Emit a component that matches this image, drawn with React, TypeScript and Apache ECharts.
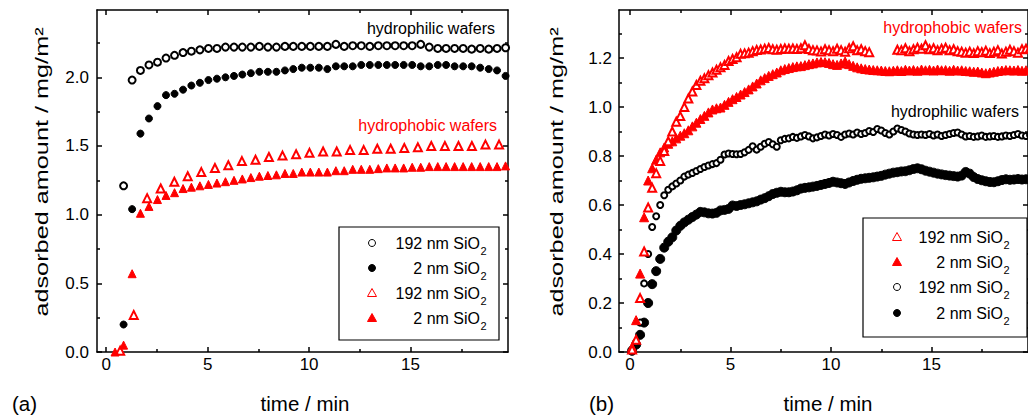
import React, { useEffect, useRef } from "react";
import * as echarts from "echarts";

const FONT = "'Liberation Sans', Arial, Helvetica, sans-serif";

// ---------- Panel (a) ----------
const timeA = [
  0.44, 0.86, 1.28, 1.69, 2.11, 2.53, 2.95, 3.37, 3.79, 4.2,
  4.62, 5.04, 5.46, 5.88, 6.3, 6.71, 7.13, 7.55, 7.97, 8.39,
  8.81, 9.22, 9.64, 10.06, 10.48, 10.9, 11.32, 11.73, 12.15, 12.57,
  12.99, 13.41, 13.83, 14.24, 14.66, 15.08, 15.5, 15.92, 16.34, 16.75,
  17.17, 17.59, 18.01, 18.43, 18.85, 19.26, 19.68,
];
const a192Hydrophilic = [
  null,
  1.21, 1.98, 2.05, 2.09, 2.11, 2.14, 2.16, 2.18, 2.19, 2.2,
  2.21, 2.21, 2.22, 2.22, 2.22, 2.22, 2.225, 2.22, 2.22, 2.225,
  2.225, 2.225, 2.225, 2.225, 2.225, 2.24, 2.225, 2.23, 2.23, 2.225,
  2.23, 2.23, 2.23, 2.23, 2.23, 2.24, 2.22, 2.21, 2.21, 2.21,
  2.21, 2.205, 2.21, 2.205, 2.21, 2.215,
];
const a2Hydrophilic = [
  null,
  0.2, 1.04, 1.59, 1.7, 1.79, 1.87, 1.88, 1.91, 1.94, 1.96,
  1.98, 1.99, 2.0, 2.01, 2.02, 2.03, 2.04, 2.04, 2.04, 2.05,
  2.06, 2.07, 2.07, 2.07, 2.06, 2.08, 2.08, 2.08, 2.09, 2.09,
  2.09, 2.09, 2.09, 2.09, 2.09, 2.08, 2.08, 2.09, 2.09, 2.08,
  2.08, 2.08, 2.07, 2.06, 2.05, 2.01,
];
const a2Hydrophobic = [
  0.0, 0.05, 0.57, 1.01, 1.06, 1.11, 1.14, 1.16, 1.19, 1.2,
  1.21, 1.22, 1.23, 1.24, 1.25, 1.26, 1.27, 1.28, 1.285, 1.29,
  1.3, 1.3, 1.31, 1.31, 1.31, 1.31, 1.32, 1.32, 1.33, 1.33,
  1.33, 1.335, 1.34, 1.34, 1.34, 1.345, 1.345, 1.35, 1.35, 1.35,
  1.35, 1.35, 1.35, 1.35, 1.35, 1.35, 1.355,
];
const timeA2 = [
  0.69, 1.36, 2.02, 2.69, 3.36, 4.02, 4.69, 5.36, 6.02, 6.69,
  7.36, 8.02, 8.69, 9.36, 10.02, 10.69, 11.36, 12.02, 12.69, 13.36,
  14.02, 14.69, 15.36, 16.02, 16.69, 17.36, 18.02, 18.69, 19.36,
];
const a192Hydrophobic = [
  0.01, 0.27, 1.12, 1.19, 1.24, 1.28, 1.31, 1.34, 1.36, 1.39,
  1.4, 1.42, 1.43, 1.44, 1.45, 1.46, 1.46, 1.47, 1.47, 1.48,
  1.48, 1.485, 1.49, 1.5, 1.5, 1.5, 1.5, 1.51, 1.51,
];

// ---------- Panel (b) ----------
const timeB = [
  0.1, 0.3, 0.5, 0.7, 0.9, 1.1, 1.3, 1.5, 1.7, 1.9,
  2.1, 2.3, 2.5, 2.7, 2.9, 3.1, 3.3, 3.5, 3.7, 3.9,
  4.1, 4.3, 4.5, 4.7, 4.9, 5.1, 5.3, 5.5, 5.7, 5.9,
  6.1, 6.3, 6.5, 6.7, 6.9, 7.1, 7.3, 7.5, 7.7, 7.9,
  8.1, 8.3, 8.5, 8.7, 8.9, 9.1, 9.3, 9.5, 9.7, 9.9,
  10.1, 10.3, 10.5, 10.7, 10.9, 11.1, 11.3, 11.5, 11.7, 11.9,
  12.1, 12.3, 12.5, 12.7, 12.9, 13.1, 13.3, 13.5, 13.7, 13.9,
  14.1, 14.3, 14.5, 14.7, 14.9, 15.1, 15.3, 15.5, 15.7, 15.9,
  16.1, 16.3, 16.5, 16.7, 16.9, 17.1, 17.3, 17.5, 17.7, 17.9,
  18.1, 18.3, 18.5, 18.7, 18.9, 19.1, 19.3, 19.5, 19.7, 19.9,
];
const b192Hydrophobic = [
  0.01, 0.05, 0.22, 0.41, 0.59, 0.67, 0.73, 0.78, 0.82, 0.86,
  0.9, 0.94, 0.963, 1.0, 1.035, 1.063, 1.09, 1.107, 1.117, 1.13,
  1.141, 1.152, 1.162, 1.172, 1.188, 1.196, 1.203, 1.217, 1.219, 1.222,
  1.228, 1.233, 1.235, 1.238, 1.241, 1.236, 1.234, 1.237, 1.239, 1.238,
  1.239, 1.237, 1.24, 1.252, 1.237, 1.232, 1.231, 1.227, 1.236, 1.232,
  1.228, 1.238, 1.232, 1.226, 1.24, 1.248, 1.232, 1.236, 1.228, 1.224,
  null, null, null, null, null, null, 1.234, 1.232, 1.24, 1.228,
  1.236, 1.242, 1.238, 1.252, 1.236, 1.24, 1.232, 1.238, 1.242, 1.232,
  1.236, 1.228, 1.226, 1.222, 1.226, 1.22, 1.228, 1.224, 1.23, 1.22,
  1.226, 1.232, 1.218, 1.226, 1.234, 1.228, 1.222, 1.236, 1.238, 1.24,
];
const b2Hydrophobic = [
  0.02, 0.13, 0.32, 0.55, 0.7, 0.75, 0.785, 0.815, 0.835, 0.85,
  0.86, 0.872, 0.883, 0.893, 0.905, 0.921, 0.936, 0.951, 0.964, 0.978,
  0.99, 0.995, 0.998, 1.009, 1.021, 1.032, 1.041, 1.051, 1.061, 1.072,
  1.084, 1.096, 1.109, 1.118, 1.127, 1.134, 1.141, 1.15, 1.155, 1.159,
  1.163, 1.166, 1.167, 1.171, 1.175, 1.178, 1.182, 1.184, 1.183, 1.18,
  1.175, 1.172, 1.178, 1.186, 1.175, 1.168, 1.162, 1.158, 1.155, 1.153,
  1.151, 1.15, 1.149, 1.147, 1.146, 1.148, 1.15, 1.147, 1.152, 1.149,
  1.151, 1.148, 1.153, 1.15, 1.152, 1.149, 1.153, 1.15, 1.151, 1.148,
  1.152, 1.149, 1.15, 1.147, 1.146, 1.144, 1.145, 1.141, 1.138, 1.141,
  1.144, 1.147, 1.149, 1.151, 1.15, 1.149, 1.151, 1.148, 1.15, 1.15,
];
const b192Hydrophilic = [
  0.01, 0.04, 0.12, 0.28, 0.4, 0.51, 0.554, 0.6, 0.64, 0.662,
  0.676, 0.688, 0.7, 0.716, 0.724, 0.731, 0.739, 0.747, 0.755, 0.761,
  0.767, 0.771, 0.785, 0.806, 0.81, 0.808, 0.807, 0.808, 0.815, 0.825,
  0.84, 0.826, 0.838, 0.85, 0.857, 0.848, 0.838, 0.864, 0.87, 0.872,
  0.878, 0.874, 0.88, 0.886, 0.88, 0.872, 0.876, 0.882, 0.888, 0.884,
  0.89, 0.886, 0.878, 0.888, 0.892, 0.888, 0.896, 0.89, 0.894, 0.902,
  0.898, 0.91, 0.904, 0.894, 0.888, 0.9, 0.912, 0.906, 0.9, 0.892,
  0.888, 0.886, 0.888, 0.886, 0.89, 0.884, 0.888, 0.882, 0.886, 0.89,
  0.894, 0.896, 0.888, 0.88, 0.882, 0.878, 0.88, 0.884, 0.878, 0.88,
  0.882, 0.878, 0.88, 0.884, 0.882, 0.886, 0.89, 0.884, 0.882, 0.886,
];
const b2Hydrophilic = [
  0.005, 0.03, 0.07, 0.12, 0.2, 0.277, 0.33, 0.38, 0.426, 0.45,
  0.468, 0.496, 0.515, 0.529, 0.54, 0.551, 0.561, 0.572, 0.57, 0.566,
  0.565, 0.568, 0.578, 0.58, 0.584, 0.598, 0.596, 0.6, 0.603, 0.607,
  0.611, 0.615, 0.622, 0.628, 0.636, 0.645, 0.65, 0.654, 0.652, 0.652,
  0.655, 0.66, 0.667, 0.67, 0.672, 0.675, 0.678, 0.682, 0.686, 0.69,
  0.695, 0.692, 0.689, 0.686, 0.692, 0.698, 0.703, 0.707, 0.709, 0.711,
  0.713, 0.716, 0.719, 0.724, 0.728, 0.732, 0.734, 0.737, 0.738, 0.742,
  0.747, 0.75, 0.746, 0.74, 0.736, 0.732, 0.728, 0.725, 0.722, 0.72,
  0.718, 0.716, 0.72, 0.735, 0.728, 0.714, 0.706, 0.701, 0.697, 0.694,
  0.693, 0.697, 0.702, 0.705, 0.703, 0.704, 0.706, 0.704, 0.705, 0.705,
];

// ---------- Ticks ----------
const xMajorTicks = [0, 5, 10, 15];
const xMinorTicks = [2.5, 7.5, 12.5, 17.5];
const yMajorTicksA = [0, 0.5, 1.0, 1.5, 2.0];
const yMinorTicksA = [0.25, 0.75, 1.25, 1.75, 2.25];
const yMajorTicksB = [0, 0.2, 0.4, 0.6, 0.8, 1.0, 1.2];
const yMinorTicksB = [0.1, 0.3, 0.5, 0.7, 0.9, 1.1, 1.3];

const legendLabels = ["192 nm SiO", "2 nm SiO"];

const RED = "#ff0000";
const BLACK = "#000000";

function pairs(t: number[], v: (number | null)[]) {
  const out: number[][] = [];
  t.forEach((x, i) => {
    const y = v[i];
    if (y !== null && y !== undefined) out.push([x, y]);
  });
  return out;
}

function makeAxes(
  dim: "x" | "y",
  gridIndex: number,
  min: number,
  max: number,
  major: number[],
  minor: number[],
  fmt: (v: number) => string,
  labelMargin: number
) {
  const posA = dim === "x" ? "bottom" : "left";
  const posB = dim === "x" ? "top" : "right";
  const lineStyle = { color: BLACK, width: 1.5 };
  const base = {
    type: "value",
    gridIndex,
    min,
    max,
    splitLine: { show: false },
    minorTick: { show: false },
    minorSplitLine: { show: false },
  };
  const label = {
    show: true,
    customValues: major,
    color: BLACK,
    fontSize: 17,
    fontFamily: FONT,
    margin: labelMargin,
    formatter: fmt,
  };
  return [
    {
      ...base,
      position: posA,
      axisLine: { show: true, onZero: false, lineStyle },
      axisTick: { show: true, inside: true, length: 5, customValues: major, lineStyle },
      axisLabel: label,
    },
    {
      ...base,
      position: posA,
      axisLine: { show: false, onZero: false },
      axisTick: { show: true, inside: true, length: 3, customValues: minor, lineStyle },
      axisLabel: { show: false },
    },
    {
      ...base,
      position: posB,
      axisLine: { show: true, onZero: false, lineStyle },
      axisTick: { show: true, inside: true, length: 5, customValues: major, lineStyle },
      axisLabel: { show: false },
    },
    {
      ...base,
      position: posB,
      axisLine: { show: false, onZero: false },
      axisTick: { show: true, inside: true, length: 3, customValues: minor, lineStyle },
      axisLabel: { show: false },
    },
  ];
}

function scatter(
  data: number[][],
  axisIdx: number,
  symbol: string,
  size: number,
  color: string
) {
  return {
    type: "scatter",
    xAxisIndex: axisIdx,
    yAxisIndex: axisIdx,
    data,
    symbol,
    symbolSize: size,
    clip: false,
    silent: true,
    itemStyle: { color, borderColor: color, borderWidth: 1, opacity: 1 },
  };
}

function txt(
  x: number,
  y: number,
  text: string,
  size: number,
  color: string,
  align: string,
  extra: any = {}
) {
  return {
    type: "text",
    x,
    y,
    z: 100,
    silent: true,
    ...extra,
    style: {
      text,
      fill: color,
      font: `${size}px ${FONT}`,
      align,
      textAlign: align,
      verticalAlign: "middle",
      textVerticalAlign: "middle",
    },
  };
}

function circleMark(cx: number, cy: number, filled: boolean) {
  return {
    type: "circle",
    z: 100,
    silent: true,
    shape: { cx, cy, r: 3.5 },
    style: { fill: filled ? BLACK : "#ffffff", stroke: BLACK, lineWidth: 1 },
  };
}

function triMark(cx: number, cy: number, filled: boolean) {
  return {
    type: "polygon",
    z: 100,
    silent: true,
    shape: {
      points: [
        [cx, cy - 4.5],
        [cx - 4.5, cy + 3.5],
        [cx + 4.5, cy + 3.5],
      ],
    },
    style: { fill: filled ? RED : "#ffffff", stroke: RED, lineWidth: 1 },
  };
}

function legendRow(textRight: number, y: number, label: string, mark: any) {
  return [
    mark,
    txt(textRight, y, label, 16, BLACK, "right"),
    txt(textRight + 0.5, y + 8, "2", 11, BLACK, "left"),
  ];
}

export default function App() {
  const ref = useRef<HTMLDivElement>(null);

  useEffect(() => {
    if (!ref.current) return;
    const chart = echarts.init(ref.current, null, { renderer: "svg" });

    const fmt1 = (v: number) => v.toFixed(1);
    const fmt0 = (v: number) => String(v);

    const xAxes = [
      ...makeAxes("x", 0, -0.45, 19.8, xMajorTicks, xMinorTicks, fmt0, 4),
      ...makeAxes("x", 1, -0.55, 19.8, xMajorTicks, xMinorTicks, fmt0, 4),
    ];
    const yAxes = [
      ...makeAxes("y", 0, 0, 2.49, yMajorTicksA, yMinorTicksA, fmt1, 8),
      ...makeAxes("y", 1, 0, 1.396, yMajorTicksB, yMinorTicksB, fmt1, 7),
    ];

    const series = [
      scatter(pairs(timeA2, a192Hydrophobic), 0, "emptyTriangle", 8, RED),
      scatter(pairs(timeA, a2Hydrophobic), 0, "triangle", 8, RED),
      scatter(pairs(timeA, a192Hydrophilic), 0, "emptyCircle", 7, BLACK),
      scatter(pairs(timeA, a2Hydrophilic), 0, "circle", 7, BLACK),
      scatter(pairs(timeB, b2Hydrophilic), 4, "circle", 9, BLACK),
      scatter(pairs(timeB, b192Hydrophilic), 4, "emptyCircle", 6, BLACK),
      scatter(pairs(timeB, b2Hydrophobic), 4, "triangle", 9, RED),
      scatter(pairs(timeB, b192Hydrophobic), 4, "emptyTriangle", 8, RED),
    ];

    const graphics: any[] = [
      txt(305, 403, "time / min", 20.5, BLACK, "center"),
      txt(828, 403, "time / min", 20.5, BLACK, "center"),
      txt(12, 403, "(a)", 20.5, BLACK, "left"),
      txt(589, 403, "(b)", 20.5, BLACK, "left"),
      txt(42, 172, "adsorbed amount / mg/m²", 19, BLACK, "center", {
        rotation: Math.PI / 2,
        scaleX: 1.33,
      }),
      txt(557, 172, "adsorbed amount / mg/m²", 19, BLACK, "center", {
        rotation: Math.PI / 2,
        scaleX: 1.33,
      }),
      txt(495, 28, "hydrophilic wafers", 16, BLACK, "right"),
      txt(497, 125, "hydrophobic wafers", 16, RED, "right"),
      txt(1022, 27, "hydrophobic wafers", 16, RED, "right"),
      txt(1019, 111, "hydrophilic wafers", 16, BLACK, "right"),
      {
        type: "rect",
        z: 99,
        silent: true,
        shape: { x: 339, y: 227, width: 160, height: 113 },
        style: { fill: "#ffffff", stroke: BLACK, lineWidth: 1.2 },
      },
      {
        type: "rect",
        z: 99,
        silent: true,
        shape: { x: 863, y: 218, width: 164, height: 119 },
        style: { fill: "#ffffff", stroke: BLACK, lineWidth: 1.2 },
      },
      ...legendRow(480, 243, legendLabels[0], circleMark(372, 243, false)),
      ...legendRow(480, 268, legendLabels[1], circleMark(372, 268, true)),
      ...legendRow(480, 293, legendLabels[0], triMark(372, 293, false)),
      ...legendRow(480, 318, legendLabels[1], triMark(372, 318, true)),
      ...legendRow(1003, 237, legendLabels[0], triMark(897, 237, false)),
      ...legendRow(1003, 262, legendLabels[1], triMark(897, 262, true)),
      ...legendRow(1003, 287, legendLabels[0], circleMark(897, 287, false)),
      ...legendRow(1003, 313, legendLabels[1], circleMark(897, 313, true)),
    ];

    chart.setOption({
      animation: false,
      backgroundColor: "#ffffff",
      textStyle: { fontFamily: FONT },
      grid: [
        { left: 97, top: 10, width: 411, height: 342, containLabel: false },
        { left: 619, top: 10, width: 411, height: 342, containLabel: false },
      ],
      xAxis: xAxes,
      yAxis: yAxes,
      series,
      graphic: { elements: graphics },
    });

    return () => chart.dispose();
  }, []);

  return (
    <div
      ref={ref}
      style={{ position: "fixed", left: 0, top: 0, width: 1028, height: 415, background: "#fff" }}
    />
  );
}
